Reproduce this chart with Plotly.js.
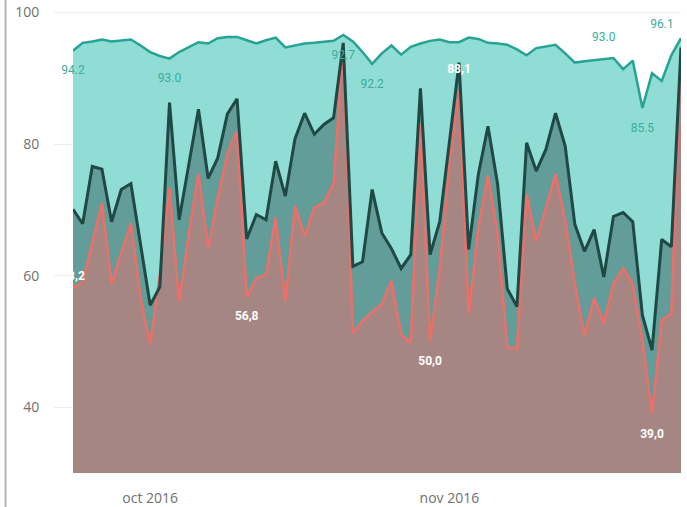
<!DOCTYPE html>
<html>
<head>
<meta charset="utf-8">
<script src="https://cdn.plot.ly/plotly-3.0.1.min.js"></script>
<style>
html,body{margin:0;padding:0;background:#ffffff;}
#chart{width:687px;height:507px;}
</style>
</head>
<body>
<div id="chart"></div>
<script>
// ---------- DATA ----------
const startDate = [2016, 8, 23]; // 23 Sep 2016 (month is 0-based)
const dayCount = 64;

const topValues = [94.2,95.4,95.6,95.9,95.6,95.7,95.9,95.0,94.0,93.4,
                   93.0,94.0,94.8,95.5,95.3,96.1,96.3,96.3,95.8,95.3,
                   95.8,96.2,94.7,95.0,95.3,95.4,95.5,95.7,96.6,95.6,
                   94.0,92.2,93.8,95.0,93.6,94.8,95.3,95.7,95.9,95.5,
                   95.5,96.2,96.0,95.4,95.3,95.1,94.4,93.5,94.6,94.9,
                   95.1,93.8,92.4,92.6,92.8,93.0,93.1,91.4,92.7,85.5,
                   90.8,89.6,93.5,96.1];

const midValues = [70.1,67.9,76.6,76.2,68.2,73.1,74.0,64.7,55.5,58.3,
                   86.3,68.5,76.9,85.3,74.8,77.9,84.6,86.9,65.6,69.3,
                   68.5,77.4,72.1,80.8,84.7,81.5,83.0,84.0,95.4,61.4,
                   62.1,73.1,66.5,64.1,61.1,63.2,88.5,63.2,68.2,80.3,
                   92.4,64.0,75.4,82.7,73.9,58.0,55.3,80.2,75.9,79.2,
                   84.7,79.7,67.8,63.7,67.0,59.8,69.0,69.6,68.2,54.0,
                   48.7,65.5,64.4,94.7];

const lowValues = [58.2,59.0,65.0,71.0,58.8,63.3,68.0,56.6,49.6,60.2,
                   73.3,56.1,66.3,75.6,64.2,71.8,78.5,82.0,56.8,59.6,
                   60.2,68.8,56.1,70.6,66.0,70.3,71.1,74.0,95.0,51.3,
                   53.1,54.5,55.7,59.2,51.1,49.8,83.1,50.0,61.1,77.0,
                   88.1,54.2,67.3,75.2,66.4,49.1,48.9,72.4,65.3,70.3,
                   75.4,68.5,58.8,50.9,56.6,52.8,58.8,61.1,58.8,50.1,
                   39.0,53.2,54.2,94.5];

const xTickVals = ['2016-10-01', '2016-11-01'];
const xTickText = ['oct 2016', 'nov 2016'];
const yTickVals = [40, 60, 80, 100];
const yTickText = ['40', '60', '80', '100'];

const topLabelIdx  = [0, 10, 28, 31, 55, 59, 63];
const topLabelText = ['94.2', '93.0', '92.7', '92.2', '93.0', '85.5', '96.1'];
const lowLabelIdx  = [0, 18, 37, 40, 60];
const lowLabelText = ['58,2', '56,8', '50,0', '88,1', '39,0'];

// ---------- BUILD ----------
const dates = [];
for (let i = 0; i < dayCount; i++) {
  const d = new Date(Date.UTC(startDate[0], startDate[1], startDate[2]));
  d.setUTCDate(d.getUTCDate() + i);
  dates.push(d.toISOString().slice(0, 10));
}

const topLabelPos = ['bottom center','bottom center','bottom center','bottom center','top center','bottom center','top left'];
const topLabelGap = [22, 22, 22, 22, 22, 22, 10];
const lowLabelPos = ['top center','bottom center','bottom center','top center','bottom center'];
const lowLabelGap = [6, 22, 22, 22, 22];

const C = {
  topFill: 'rgb(143,221,213)',
  topLine: 'rgb(38,163,148)',
  midFill: 'rgb(98,157,153)',
  midLine: 'rgb(32,72,68)',
  lowFill: 'rgb(166,134,131)',
  lowLine: 'rgb(238,110,104)'
};

function fillTrace(y, color) {
  return {x: dates, y: y, type: 'scatter', mode: 'lines', fill: 'tozeroy',
          fillcolor: color, line: {width: 0, color: color}, hoverinfo: 'skip'};
}
function lineTrace(y, color, w) {
  return {x: dates, y: y, type: 'scatter', mode: 'lines',
          line: {width: w, color: color}, hoverinfo: 'skip'};
}
function labelTrace(idx, texts, series, pos, gap, color, weight, size) {
  return {
    x: idx.map(i => dates[i]), y: idx.map(i => series[i]),
    text: texts, type: 'scatter', mode: 'markers+text',
    marker: {size: gap, opacity: 0},
    textposition: pos, cliponaxis: false, hoverinfo: 'skip',
    textfont: {family: 'Roboto, "Open Sans", sans-serif', size: size, color: color, weight: weight}
  };
}

const data = [
  fillTrace(topValues, C.topFill),
  fillTrace(midValues, C.midFill),
  fillTrace(lowValues, C.lowFill),
  lineTrace(topValues, C.topLine, 2.5),
  lineTrace(lowValues, C.lowLine, 2.5),
  lineTrace(midValues, C.midLine, 3),
  labelTrace(topLabelIdx, topLabelText, topValues, topLabelPos, topLabelGap, 'rgb(60,172,158)', 400, 12),
  labelTrace(lowLabelIdx, lowLabelText, lowValues, lowLabelPos, lowLabelGap, '#ffffff', 700, 12)
];

const layout = {
  width: 687, height: 507,
  margin: {l: 73, r: 6, t: 6, b: 34, pad: 0},
  paper_bgcolor: '#ffffff', plot_bgcolor: '#ffffff',
  showlegend: false,
  xaxis: {
    type: 'date', range: [dates[0], dates[dates.length - 1]],
    tickmode: 'array', tickvals: xTickVals, ticktext: xTickText,
    showgrid: false, zeroline: false, showline: false, ticks: '',
    ticklabelstandoff: 15,
    tickfont: {family: '"Open Sans", "DejaVu Sans", sans-serif', size: 14, color: '#707070'},
    fixedrange: true
  },
  yaxis: {
    range: [30, 101],
    tickmode: 'array', tickvals: yTickVals, ticktext: yTickText,
    showgrid: true, gridcolor: '#ececec', gridwidth: 1,
    zeroline: false, showline: false,
    ticks: 'outside', ticklen: 18, tickcolor: '#ececec', tickwidth: 1,
    ticklabelstandoff: 12,
    tickfont: {family: '"Open Sans", "DejaVu Sans", sans-serif', size: 14, color: '#707070'},
    fixedrange: true
  },
  shapes: [{
    type: 'line', xref: 'paper', yref: 'paper',
    x0: -0.111, x1: -0.111, y0: -0.08, y1: 1.02,
    line: {color: '#b5b5b5', width: 2}
  }]
};

Plotly.newPlot('chart', data, layout, {displayModeBar: false, staticPlot: true});
</script>
</body>
</html>
